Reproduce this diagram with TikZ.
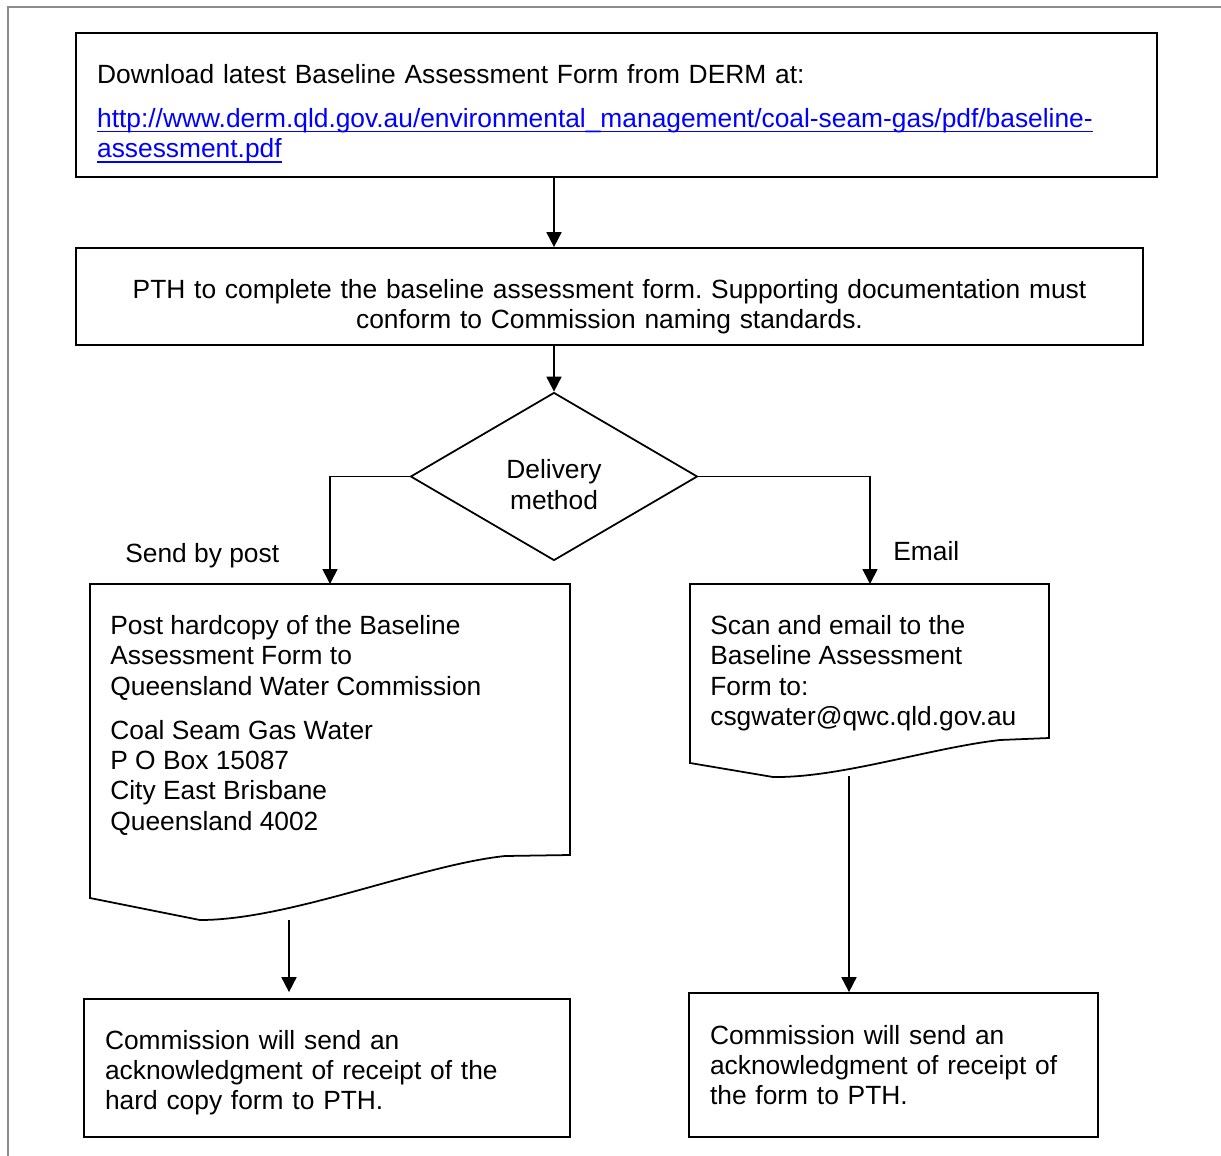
\documentclass[tikz,border=0pt]{standalone}
\usepackage{fontspec}
\setmainfont{Liberation Sans}
\usetikzlibrary{shapes.geometric,arrows.meta}
\definecolor{framegray}{RGB}{140,140,140}
\definecolor{linkblue}{RGB}{0,0,255}
\newcommand{\weblink}[1]{\textcolor{linkblue}{\setbox0\hbox{#1}\rlap{\rule[-3pt]{\wd0}{1pt}}\box0}}
\frenchspacing
\tikzset{
  every node/.style={font=\fontsize{15}{17.3}\selectfont},
  box/.style={draw, line width=1pt, inner xsep=0.42cm, inner ysep=0pt},
  decision/.style={draw, line width=1pt, shape=diamond, aspect=1.7, inner sep=0pt,
    minimum width=5.74cm, minimum height=3.36cm, align=center},
  doctext/.style={inner sep=0pt, align=left},
  arr/.style={line width=1pt, -{Triangle[length=8.5pt,width=8.5pt]}}
}
\begin{document}
\begin{tikzpicture}[x=0.02cm,y=-0.02cm]
    \useasboundingbox (0,0) rectangle (1221,1156);
    % Page frame
    \draw[framegray, line width=1.2pt] (8,1156) -- (8,7) -- (1221,7);
    % Download box
    \node[box, text width=20.78cm, minimum width=21.62cm, minimum height=2.88cm, align=left]
      (download) at (616.5,105) {\rule{0pt}{20.7pt}Download latest Baseline Assessment Form from DERM at:\\[7.7pt]
      \weblink{http://www.derm.qld.gov.au/environmental\_management/coal-seam-gas/pdf/baseline-}\\
      \weblink{assessment.pdf}};
    % Complete the form
    \node[box, text width=20cm, minimum width=21.34cm, minimum height=1.94cm, align=center]
      (pth) at (609.5,296.5) {\rule{0pt}{22.4pt}PTH to complete the baseline assessment form. Supporting documentation must\\
      conform to Commission naming standards.};
    % Decision
    \node[decision] (delivery) at (554,476.5) {\rule{0pt}{20pt}Delivery\\method};
    % Post document
    \draw[line width=1pt] (90,584) -- (570,584) -- (570,855) -- (505,856)
      .. controls (420,865) and (290,920) .. (200,920) -- (90,898) -- cycle;
    \node[doctext, anchor=north west] (posttext) at (110,615) {Post hardcopy of the Baseline\\
      Assessment Form to\\Queensland Water Commission\\[7.7pt]
      Coal Seam Gas Water\\P O Box 15087\\City East Brisbane\\Queensland 4002};
    \coordinate (posttop) at (330,584);
    \coordinate (postbot) at (289,920);
    % Email document
    \draw[line width=1pt] (690,584) -- (1049,584) -- (1049,738) -- (1000,740)
      .. controls (930,748) and (840,778) .. (773,777) -- (690,763) -- cycle;
    \node[doctext, anchor=north west] (emailtext) at (710,615) {Scan and email to the\\
      Baseline Assessment\\Form to:\\csgwater@qwc.qld.gov.au};
    \coordinate (emailtop) at (870,584);
    \coordinate (emailbot) at (849,776);
    % Acknowledgments
    \node[box, text width=8.88cm, minimum width=9.72cm, minimum height=2.76cm, align=left]
      (ackpost) at (327,1068) {\rule{0pt}{16.2pt}Commission will send an\\acknowledgment of receipt of the\\hard copy form to PTH.};
    \node[box, text width=7.34cm, minimum width=8.18cm, minimum height=2.88cm, align=left]
      (ackemail) at (893.5,1065) {Commission will send an\\acknowledgment of receipt of\\the form to PTH.};
    % Branch labels
    \node[anchor=base west, inner sep=0pt] (postlabel) at (125,562) {Send by post};
    \node[anchor=base west, inner sep=0pt] (emaillabel) at (893,560) {Email};
    % Arrows
    \draw[arr] (download.south -| delivery.north) -- (pth.north -| delivery.north);
    \draw[arr] (pth.south -| delivery.north) -- (delivery.north);
    \draw[arr] (delivery.west) -| (posttop);
    \draw[arr] (delivery.east) -| (emailtop);
    \draw[arr, shorten >=0.12cm] (postbot) -- (postbot |- ackpost.north);
    \draw[arr] (emailbot) -- (emailbot |- ackemail.north);
\end{tikzpicture}
\end{document}
